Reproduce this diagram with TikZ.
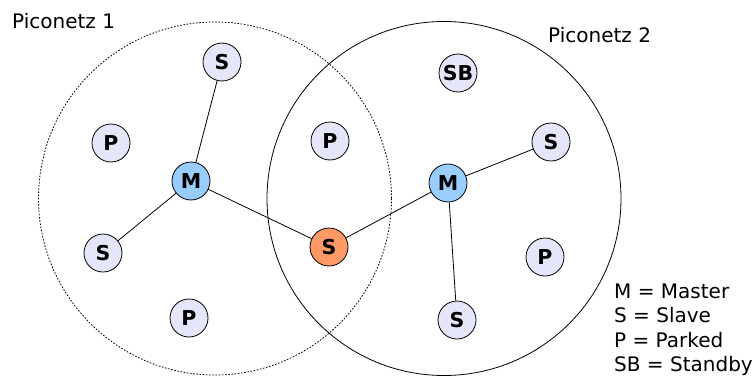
\documentclass[tikz,border=0pt]{standalone}
\usepackage{fontspec}
\setmainfont{DejaVu Sans}
\definecolor{lav}{HTML}{E6E6FA}
\definecolor{mblue}{HTML}{99CCFF}
\definecolor{sorange}{HTML}{FF9966}
\begin{document}
\begin{tikzpicture}[x=1pt,y=-1pt,
  dev/.style={circle,draw=black,line width=0.8pt,fill=lav,minimum size=38pt,inner sep=0pt,font=\fontsize{20.5}{24}\selectfont\bfseries},
  master/.style={dev,fill=mblue},
  bridge/.style={dev,fill=sorange},
  lbl/.style={anchor=base west,inner sep=0pt,font=\fontsize{20}{24}\selectfont},
  link/.style={line width=0.8pt}]
\useasboundingbox (0,0) rectangle (755,380);
% piconet circles
\draw[line width=0.8pt,dash pattern=on 1.6pt off 1.6pt] (215,198.5) circle[radius=176.5];
\draw[line width=0.8pt] (444,198.5) circle[radius=177];
% nodes
\node[dev] (s1) at (222,62) {S};
\node[dev] (p1) at (111,143) {P};
\node[master] (m1) at (191,181) {M};
\node[dev] (s2) at (103,253) {S};
\node[dev] (p2) at (189,318) {P};
\node[dev] (p3) at (330,141) {P};
\node[bridge] (sb) at (329,247) {S};
\node[dev] (sby) at (458,73) {SB};
\node[dev] (s3) at (551,142) {S};
\node[master] (m2) at (448,183) {M};
\node[dev] (p4) at (545,257) {P};
\node[dev] (s4) at (457,320) {S};
% links
\draw[link] (s1) -- (m1);
\draw[link] (m1) -- (s2);
\draw[link] (m1) -- (sb);
\draw[link] (sb) -- (m2);
\draw[link] (m2) -- (s3);
\draw[link] (m2) -- (s4);
% labels
\node[lbl] (pn1) at (12,28) {Piconetz 1};
\node[lbl] (pn2) at (548,42) {Piconetz 2};
\node[lbl] (l1) at (614,298) {M = Master};
\node[lbl] (l2) at (614,322.5) {S = Slave};
\node[lbl] (l3) at (614,347) {P = Parked};
\node[lbl] (l4) at (614,371.5) {SB = Standby};
\end{tikzpicture}
\end{document}
